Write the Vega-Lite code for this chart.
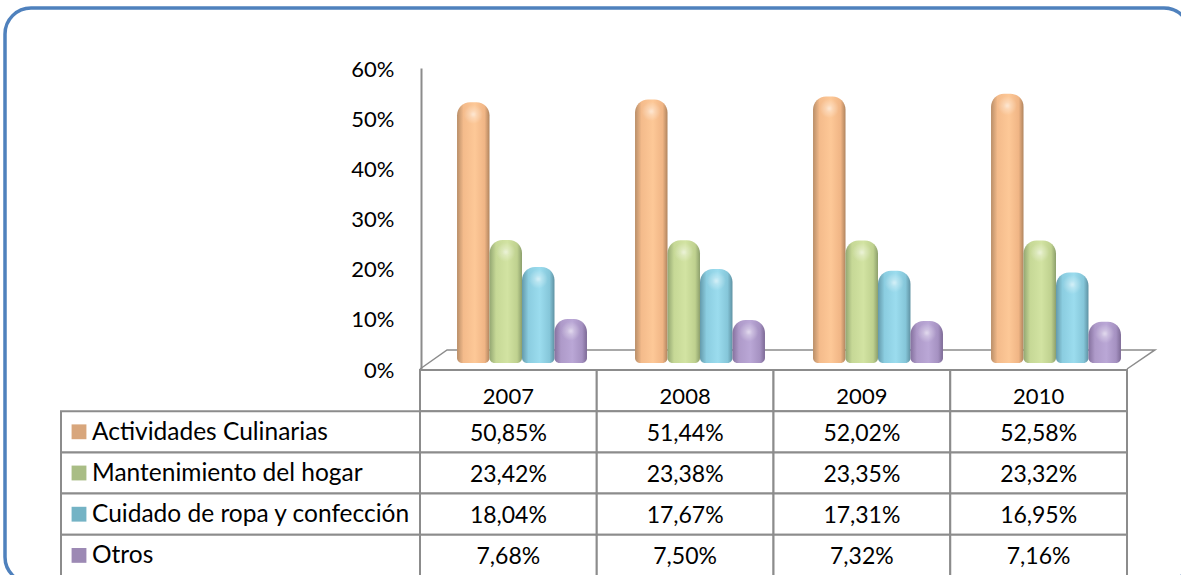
{
"$schema":"https://vega.github.io/schema/vega-lite/v6.json",
"width":1185,"height":575,
"padding":{"left":5,"top":8,"right":0,"bottom":0},
"autosize":"none",
"background":"white",
"config":{"view":{"stroke":"#4f81bd","strokeWidth":3.5,"cornerRadius":26},"font":"Lato"},
"datasets":{
"valores":[
{"anio":"2007","serie":"Actividades Culinarias","valor":50.85,"etiqueta":"50,85%"},
{"anio":"2007","serie":"Mantenimiento del hogar","valor":23.42,"etiqueta":"23,42%"},
{"anio":"2007","serie":"Cuidado de ropa y confección","valor":18.04,"etiqueta":"18,04%"},
{"anio":"2007","serie":"Otros","valor":7.68,"etiqueta":"7,68%"},
{"anio":"2008","serie":"Actividades Culinarias","valor":51.44,"etiqueta":"51,44%"},
{"anio":"2008","serie":"Mantenimiento del hogar","valor":23.38,"etiqueta":"23,38%"},
{"anio":"2008","serie":"Cuidado de ropa y confección","valor":17.67,"etiqueta":"17,67%"},
{"anio":"2008","serie":"Otros","valor":7.50,"etiqueta":"7,50%"},
{"anio":"2009","serie":"Actividades Culinarias","valor":52.02,"etiqueta":"52,02%"},
{"anio":"2009","serie":"Mantenimiento del hogar","valor":23.35,"etiqueta":"23,35%"},
{"anio":"2009","serie":"Cuidado de ropa y confección","valor":17.31,"etiqueta":"17,31%"},
{"anio":"2009","serie":"Otros","valor":7.32,"etiqueta":"7,32%"},
{"anio":"2010","serie":"Actividades Culinarias","valor":52.58,"etiqueta":"52,58%"},
{"anio":"2010","serie":"Mantenimiento del hogar","valor":23.32,"etiqueta":"23,32%"},
{"anio":"2010","serie":"Cuidado de ropa y confección","valor":16.95,"etiqueta":"16,95%"},
{"anio":"2010","serie":"Otros","valor":7.16,"etiqueta":"7,16%"}
],
"encabezado":[
{"anio":"2007","serie":"Año"},{"anio":"2008","serie":"Año"},{"anio":"2009","serie":"Año"},{"anio":"2010","serie":"Año"}
],
"series":[
{"serie":"Actividades Culinarias","col":"nombre"},
{"serie":"Mantenimiento del hogar","col":"nombre"},
{"serie":"Cuidado de ropa y confección","col":"nombre"},
{"serie":"Otros","col":"nombre"}
],
"piso":[
{"i":0,"px":0,"py":0},
{"i":1,"px":0.153,"py":3.8},
{"i":2,"px":4.158,"py":3.8},
{"i":3,"px":4,"py":0}
]
},
"resolve":{"scale":{"x":"independent","y":"independent","xOffset":"independent","color":"independent"},"axis":{"x":"independent","y":"independent"}},
"layer":[
{
"data":{"name":"piso"},
"mark":{"type":"line","color":"#8c8c8c","strokeWidth":1.5},
"encoding":{
"x":{"field":"px","type":"quantitative","axis":null,"scale":{"domain":[0,4],"range":[415,1122],"nice":false,"zero":false}},
"y":{"field":"py","type":"quantitative","title":null,
"scale":{"domain":[0,60],"range":[361,60],"nice":false},
"axis":{"values":[0,10,20,30,40,50,60],"labelExpr":"datum.value+'%'","offset":-416,"ticks":false,"grid":false,"domainColor":"#8c8c8c","domainWidth":2,"labelFont":"Lato","labelFontSize":22,"labelColor":"#000000","labelPadding":27,"labelOffset":1}},
"order":{"field":"i","type":"quantitative"}
}
},
{
"data":{"name":"valores"},
"transform":[{"filter":"datum.serie==='Actividades Culinarias'"}],
"mark":{"type":"bar","cornerRadiusTopLeft":13,"cornerRadiusTopRight":13,"cornerRadiusBottomLeft":5,"cornerRadiusBottomRight":5,
"fill":{"gradient":"linear","x1":0,"x2":1,"y1":0,"y2":0,"stops":[{"offset":0,"color":"#b98e68"},{"offset":0.2,"color":"#f4bb8b"},{"offset":0.55,"color":"#fdc897"},{"offset":0.85,"color":"#f0b585"},{"offset":1,"color":"#b0845e"}]}},
"encoding":{
"x":{"field":"anio","type":"nominal","axis":null,"scale":{"type":"band","domain":["2007","2008","2009","2010"],"range":[428,1140],"paddingInner":0.27,"paddingOuter":0.135}},
"xOffset":{"field":"serie","type":"nominal","scale":{"domain":["Actividades Culinarias","Mantenimiento del hogar","Cuidado de ropa y confección","Otros"],"paddingInner":0,"paddingOuter":0}},
"y":{"field":"valor","type":"quantitative","axis":null,"stack":null,"scale":{"domain":[-1.07,60],"range":[355,48.4],"nice":false,"zero":false}},
"y2":{"datum":-1.07}
}
},
{
"data":{"name":"valores"},
"transform":[{"filter":"datum.serie==='Mantenimiento del hogar'"}],
"mark":{"type":"bar","cornerRadiusTopLeft":13,"cornerRadiusTopRight":13,"cornerRadiusBottomLeft":5,"cornerRadiusBottomRight":5,
"fill":{"gradient":"linear","x1":0,"x2":1,"y1":0,"y2":0,"stops":[{"offset":0,"color":"#93a672"},{"offset":0.2,"color":"#c6d896"},{"offset":0.55,"color":"#d2e3a2"},{"offset":0.85,"color":"#bfd18f"},{"offset":1,"color":"#8c9f6c"}]}},
"encoding":{
"x":{"field":"anio","type":"nominal","axis":null,"scale":{"type":"band","domain":["2007","2008","2009","2010"],"range":[428,1140],"paddingInner":0.27,"paddingOuter":0.135}},
"xOffset":{"field":"serie","type":"nominal","scale":{"domain":["Actividades Culinarias","Mantenimiento del hogar","Cuidado de ropa y confección","Otros"],"paddingInner":0,"paddingOuter":0}},
"y":{"field":"valor","type":"quantitative","axis":null,"stack":null,"scale":{"domain":[-1.07,60],"range":[355,48.4],"nice":false,"zero":false}},
"y2":{"datum":-1.07}
}
},
{
"data":{"name":"valores"},
"transform":[{"filter":"datum.serie==='Cuidado de ropa y confección'"}],
"mark":{"type":"bar","cornerRadiusTopLeft":13,"cornerRadiusTopRight":13,"cornerRadiusBottomLeft":5,"cornerRadiusBottomRight":5,
"fill":{"gradient":"linear","x1":0,"x2":1,"y1":0,"y2":0,"stops":[{"offset":0,"color":"#649aab"},{"offset":0.2,"color":"#8bcde0"},{"offset":0.55,"color":"#9bdcee"},{"offset":0.85,"color":"#85c6d9"},{"offset":1,"color":"#5f92a3"}]}},
"encoding":{
"x":{"field":"anio","type":"nominal","axis":null,"scale":{"type":"band","domain":["2007","2008","2009","2010"],"range":[428,1140],"paddingInner":0.27,"paddingOuter":0.135}},
"xOffset":{"field":"serie","type":"nominal","scale":{"domain":["Actividades Culinarias","Mantenimiento del hogar","Cuidado de ropa y confección","Otros"],"paddingInner":0,"paddingOuter":0}},
"y":{"field":"valor","type":"quantitative","axis":null,"stack":null,"scale":{"domain":[-1.07,60],"range":[355,48.4],"nice":false,"zero":false}},
"y2":{"datum":-1.07}
}
},
{
"data":{"name":"valores"},
"transform":[{"filter":"datum.serie==='Otros'"}],
"mark":{"type":"bar","cornerRadiusTopLeft":13,"cornerRadiusTopRight":13,"cornerRadiusBottomLeft":5,"cornerRadiusBottomRight":5,
"fill":{"gradient":"linear","x1":0,"x2":1,"y1":0,"y2":0,"stops":[{"offset":0,"color":"#85719e"},{"offset":0.2,"color":"#ae9ac9"},{"offset":0.55,"color":"#baa7d6"},{"offset":0.85,"color":"#a591c1"},{"offset":1,"color":"#7d6a96"}]}},
"encoding":{
"x":{"field":"anio","type":"nominal","axis":null,"scale":{"type":"band","domain":["2007","2008","2009","2010"],"range":[428,1140],"paddingInner":0.27,"paddingOuter":0.135}},
"xOffset":{"field":"serie","type":"nominal","scale":{"domain":["Actividades Culinarias","Mantenimiento del hogar","Cuidado de ropa y confección","Otros"],"paddingInner":0,"paddingOuter":0}},
"y":{"field":"valor","type":"quantitative","axis":null,"stack":null,"scale":{"domain":[-1.07,60],"range":[355,48.4],"nice":false,"zero":false}},
"y2":{"datum":-1.07}
}
},
{
"data":{"name":"valores"},
"mark":{"type":"point","shape":"circle","filled":true,"size":380,"yOffset":12,"opacity":1,
"fill":{"gradient":"radial","x1":0.5,"y1":0.5,"r1":0,"x2":0.5,"y2":0.5,"r2":0.5,"stops":[{"offset":0,"color":"rgba(255,255,255,0.6)"},{"offset":0.35,"color":"rgba(255,255,255,0.3)"},{"offset":1,"color":"rgba(255,255,255,0)"}]}},
"encoding":{
"x":{"field":"anio","type":"nominal","axis":null,"scale":{"type":"band","domain":["2007","2008","2009","2010"],"range":[428,1140],"paddingInner":0.27,"paddingOuter":0.135}},
"xOffset":{"field":"serie","type":"nominal","bandPosition":0.5,"scale":{"type":"band","domain":["Actividades Culinarias","Mantenimiento del hogar","Cuidado de ropa y confección","Otros"],"paddingInner":0,"paddingOuter":0}},
"y":{"field":"valor","type":"quantitative","axis":null,"scale":{"domain":[-1.07,60],"range":[355,48.4],"nice":false,"zero":false}}
}
},
{
"data":{"name":"encabezado"},
"mark":{"type":"rect","fill":"white","stroke":"#8c8c8c","strokeWidth":2},
"encoding":{
"x":{"field":"anio","type":"nominal","axis":null,"scale":{"type":"band","domain":["2007","2008","2009","2010"],"range":[415,1122],"paddingInner":0,"paddingOuter":0}},
"y":{"field":"serie","type":"nominal","axis":null,"scale":{"type":"band","domain":["Año","Actividades Culinarias","Mantenimiento del hogar","Cuidado de ropa y confección","Otros"],"range":[362,568],"paddingInner":0,"paddingOuter":0}}
}
},
{
"data":{"name":"valores"},
"mark":{"type":"rect","fill":"white","stroke":"#8c8c8c","strokeWidth":2},
"encoding":{
"x":{"field":"anio","type":"nominal","axis":null,"scale":{"type":"band","domain":["2007","2008","2009","2010"],"range":[415,1122],"paddingInner":0,"paddingOuter":0}},
"y":{"field":"serie","type":"nominal","axis":null,"scale":{"type":"band","domain":["Año","Actividades Culinarias","Mantenimiento del hogar","Cuidado de ropa y confección","Otros"],"range":[362,568],"paddingInner":0,"paddingOuter":0}}
}
},
{
"data":{"name":"series"},
"mark":{"type":"rect","fill":"white","stroke":"#8c8c8c","strokeWidth":2},
"encoding":{
"x":{"field":"col","type":"nominal","axis":null,"scale":{"type":"band","domain":["nombre"],"range":[56,415],"paddingInner":0,"paddingOuter":0}},
"y":{"field":"serie","type":"nominal","axis":null,"scale":{"type":"band","domain":["Año","Actividades Culinarias","Mantenimiento del hogar","Cuidado de ropa y confección","Otros"],"range":[362,568],"paddingInner":0,"paddingOuter":0}}
}
},
{
"data":{"name":"encabezado"},
"mark":{"type":"text","font":"Lato","fontSize":22,"color":"#000000","baseline":"middle","align":"center","dy":6},
"encoding":{
"x":{"field":"anio","type":"nominal","axis":null,"scale":{"type":"band","domain":["2007","2008","2009","2010"],"range":[415,1122],"paddingInner":0,"paddingOuter":0}},
"y":{"field":"serie","type":"nominal","axis":null,"scale":{"type":"band","domain":["Año","Actividades Culinarias","Mantenimiento del hogar","Cuidado de ropa y confección","Otros"],"range":[362,568],"paddingInner":0,"paddingOuter":0}},
"text":{"field":"anio"}
}
},
{
"data":{"name":"valores"},
"mark":{"type":"text","font":"Lato","fontSize":23,"color":"#000000","baseline":"middle","align":"center","dy":2},
"encoding":{
"x":{"field":"anio","type":"nominal","axis":null,"scale":{"type":"band","domain":["2007","2008","2009","2010"],"range":[415,1122],"paddingInner":0,"paddingOuter":0}},
"y":{"field":"serie","type":"nominal","axis":null,"scale":{"type":"band","domain":["Año","Actividades Culinarias","Mantenimiento del hogar","Cuidado de ropa y confección","Otros"],"range":[362,568],"paddingInner":0,"paddingOuter":0}},
"text":{"field":"etiqueta"}
}
},
{
"data":{"name":"series"},
"mark":{"type":"text","font":"Lato","fontSize":24.5,"color":"#000000","baseline":"middle","align":"left","dx":31,"dy":1},
"encoding":{
"x":{"field":"col","type":"nominal","bandPosition":0,"axis":null,"scale":{"type":"band","domain":["nombre"],"range":[56,415],"paddingInner":0,"paddingOuter":0}},
"y":{"field":"serie","type":"nominal","axis":null,"scale":{"type":"band","domain":["Año","Actividades Culinarias","Mantenimiento del hogar","Cuidado de ropa y confección","Otros"],"range":[362,568],"paddingInner":0,"paddingOuter":0}},
"text":{"field":"serie"}
}
},
{
"data":{"name":"series"},
"mark":{"type":"point","shape":"square","filled":true,"size":220,"opacity":1,"xOffset":18},
"encoding":{
"x":{"field":"col","type":"nominal","bandPosition":0,"axis":null,"scale":{"type":"band","domain":["nombre"],"range":[56,415],"paddingInner":0,"paddingOuter":0}},
"y":{"field":"serie","type":"nominal","axis":null,"scale":{"type":"band","domain":["Año","Actividades Culinarias","Mantenimiento del hogar","Cuidado de ropa y confección","Otros"],"range":[362,568],"paddingInner":0,"paddingOuter":0}},
"color":{"field":"serie","type":"nominal","legend":null,"scale":{"domain":["Actividades Culinarias","Mantenimiento del hogar","Cuidado de ropa y confección","Otros"],"range":["#d8a67c","#a9bd85","#74b3c5","#9c89b4"]}}
}
}
]
}
